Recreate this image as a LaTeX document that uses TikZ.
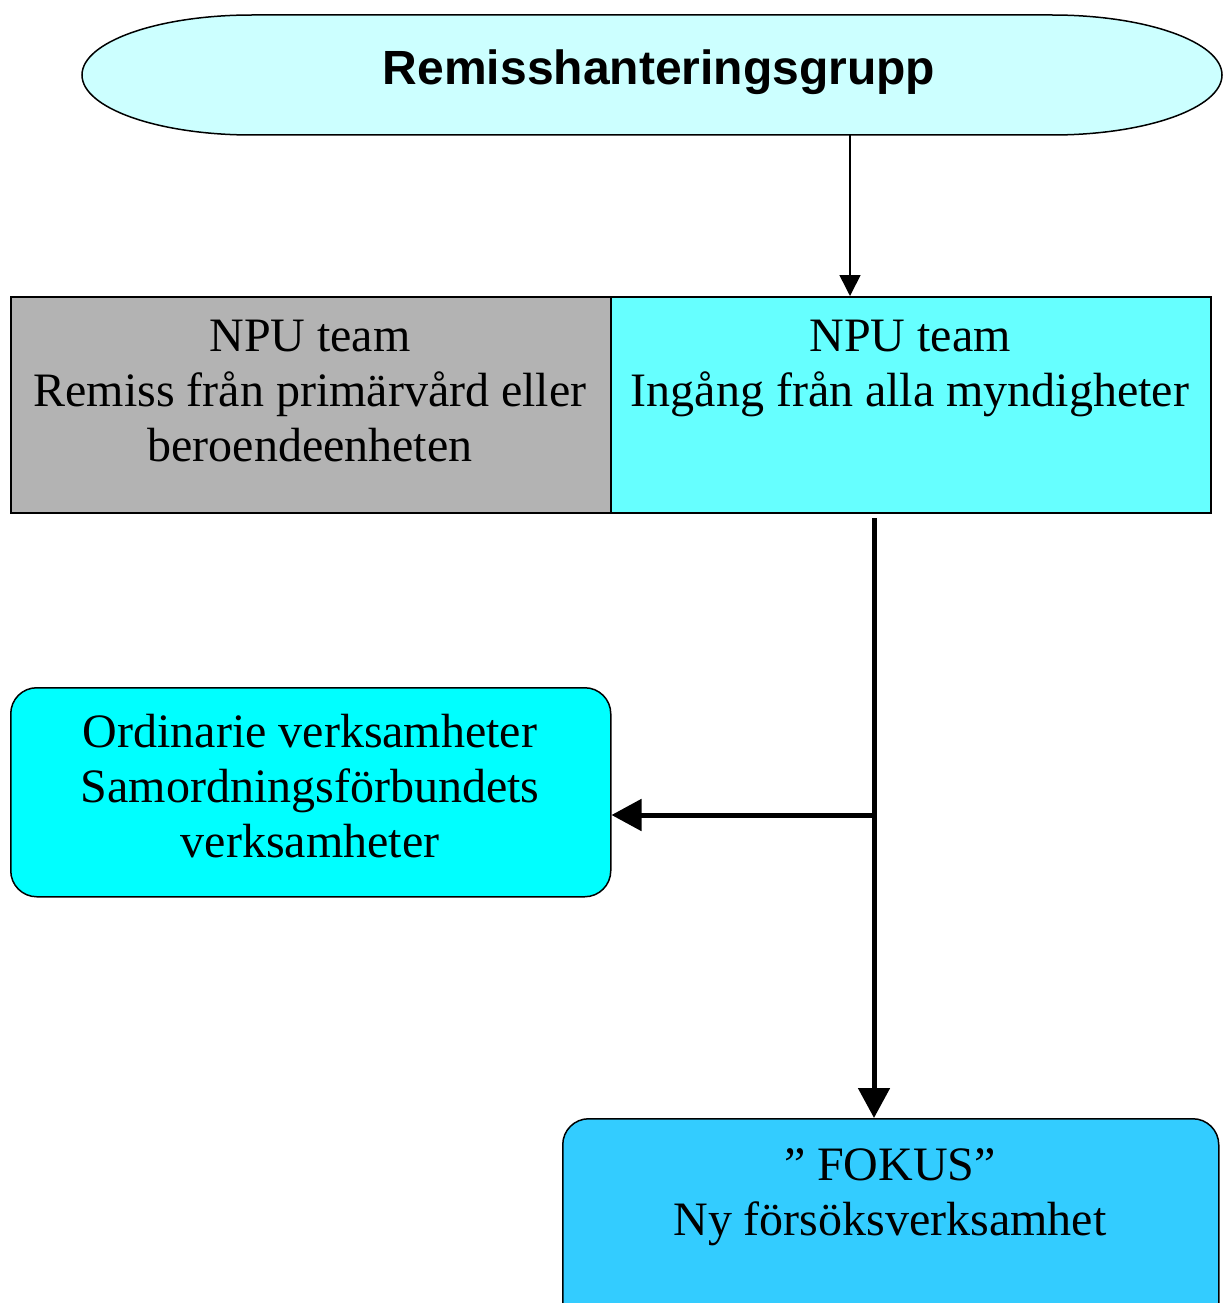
\documentclass[tikz,border=0pt]{standalone}
\usepackage{fontspec}
\setmainfont{Liberation Serif}
\newfontfamily\arialfont{Liberation Sans}
\usetikzlibrary{arrows.meta}
\definecolor{termfill}{HTML}{CCFFFF}
\definecolor{grayfill}{HTML}{B3B3B3}
\definecolor{lcyan}{HTML}{66FFFF}
\definecolor{cyanfill}{HTML}{00FFFF}
\definecolor{skyfill}{HTML}{33CCFF}
\tikzset{
  txt/.style={align=center,font=\fontsize{48}{55}\selectfont,inner sep=0pt},
  squarebox/.style={draw=black,line width=1.5pt,inner sep=0pt,minimum width=600pt,minimum height=216pt},
  roundbox/.style={draw=black,line width=1.5pt,rounded corners=26pt,inner sep=0pt},
  thinarrow/.style={line width=1.6pt,-{Triangle[length=21pt,width=21pt]}},
  thickarrow/.style={line width=5pt,-{Triangle[length=30pt,width=31pt]}},
  thickline/.style={line width=5pt},
}
\begin{document}
\begin{tikzpicture}[x=1pt,y=-1pt]
\useasboundingbox (0,0) rectangle (1223,1303);
% terminator
\draw[fill=termfill,line width=1.5pt] (252,15) -- (1052,15) arc[start angle=-90,end angle=90,x radius=170,y radius=60] -- (252,135) arc[start angle=90,end angle=270,x radius=170,y radius=60] -- cycle;
\node[inner sep=0pt,font=\arialfont\bfseries\fontsize{48}{55}\selectfont] (top) at (659,72) {Remisshanteringsgrupp};
\coordinate (topb) at (850,135);
% NPU boxes
\node[squarebox,fill=grayfill,anchor=north west] (npul) at (10,296) {};
\node[squarebox,fill=lcyan,anchor=north west] (npur) at (610,296) {};
\node[txt,anchor=north] (npultxt) at (310,320) {NPU team\\Remiss från primärvård eller\\beroendeenheten};
\node[txt,anchor=north] (npurtxt) at (910,320) {NPU team\\Ingång från alla myndigheter};
% ordinary box
\node[roundbox,fill=cyanfill,anchor=north west,minimum width=600pt,minimum height=209pt] (ord) at (10,687) {};
\node[txt,anchor=north] (ordtxt) at (310,714) {Ordinarie verksamheter\\Samordningsförbundets\\verksamheter};
% fokus box
\node[roundbox,fill=skyfill,anchor=north west,minimum width=656pt,minimum height=230pt] (fokus) at (562,1118) {};
\node[txt,anchor=north] (fokustxt) at (890,1148) {” FOKUS”\\Ny försöksverksamhet};
% connectors
\draw[thinarrow] (topb) -- (topb |- npur.north);
\coordinate (vs) at (874,518);
\coordinate (br) at (874,815);
\draw[thickarrow] (vs) -- (vs |- fokus.north);
\draw[thickarrow] (br) -- (br -| ord.east);
\end{tikzpicture}
\end{document}
